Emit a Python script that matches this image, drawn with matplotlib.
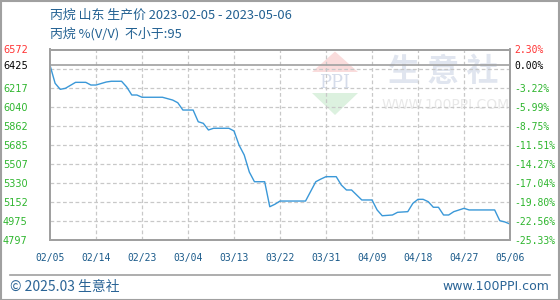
import matplotlib
matplotlib.use("Agg")
import matplotlib.pyplot as plt
from matplotlib.patches import Polygon, Rectangle
from matplotlib.lines import Line2D
import numpy as np

# ---------------- data ----------------
dates = ["2023-02-05", "2023-02-06", "2023-02-07", "2023-02-08", "2023-02-10", "2023-02-12",
         "2023-02-13", "2023-02-14", "2023-02-16", "2023-02-17", "2023-02-19", "2023-02-20",
         "2023-02-21", "2023-02-22", "2023-02-23", "2023-02-27", "2023-03-01", "2023-03-02",
         "2023-03-03", "2023-03-05", "2023-03-06", "2023-03-07", "2023-03-08", "2023-03-09",
         "2023-03-12", "2023-03-13", "2023-03-14", "2023-03-15", "2023-03-16", "2023-03-17",
         "2023-03-19", "2023-03-20", "2023-03-21", "2023-03-22", "2023-03-27", "2023-03-29",
         "2023-03-30", "2023-03-31", "2023-04-02", "2023-04-03", "2023-04-04", "2023-04-05",
         "2023-04-07", "2023-04-09", "2023-04-10", "2023-04-11", "2023-04-13", "2023-04-14",
         "2023-04-16", "2023-04-17", "2023-04-18", "2023-04-19", "2023-04-20", "2023-04-21",
         "2023-04-22", "2023-04-23", "2023-04-24", "2023-04-25", "2023-04-27", "2023-04-28",
         "2023-05-03", "2023-05-04", "2023-05-05", "2023-05-06"]
prices = [6425, 6257, 6201, 6210, 6266, 6266,
          6241, 6241, 6269, 6276, 6276, 6223,
          6148, 6148, 6127, 6127, 6101, 6076,
          6008, 6008, 5899, 5884, 5822, 5838,
          5838, 5813, 5680, 5589, 5430, 5340,
          5340, 5107, 5130, 5160, 5160, 5340,
          5365, 5387, 5387, 5309, 5263, 5263,
          5170, 5170, 5077, 5023, 5030, 5055,
          5061, 5139, 5176, 5176, 5154, 5102,
          5102, 5030, 5030, 5061, 5092, 5077,
          5077, 4977, 4965, 4946]

x_tick_dates = ["2023-02-05", "2023-02-14", "2023-02-23", "2023-03-04", "2023-03-13", "2023-03-22",
                "2023-03-31", "2023-04-09", "2023-04-18", "2023-04-27", "2023-05-06"]
x_tick_labels = ["02/05", "02/14", "02/23", "03/04", "03/13", "03/22",
                 "03/31", "04/09", "04/18", "04/27", "05/06"]

y_min, y_max = 4797, 6572
base_value = 6425
grid_values = [4974.5, 5152, 5329.5, 5507, 5684.5, 5862, 6039.5, 6217, 6394.5]
left_tick_values = [4797, 4974.5, 5152, 5329.5, 5507, 5684.5, 5862, 6039.5, 6217, 6425, 6572]
left_tick_labels = ["4797", "4975", "5152", "5330", "5507", "5685", "5862", "6040", "6217", "6425", "6572"]
right_tick_labels = ["-25.33%", "-22.56%", "-19.80%", "-17.04%", "-14.27%", "-11.51%",
                     "-8.75%", "-5.99%", "-3.22%", "0.00%", "2.30%"]

title1 = "丙烷 山东 生产价 2023-02-05 - 2023-05-06"
title2 = "丙烷 %(V/V)  不小于:95"
footer_left = "© 2025.03 生意社"
footer_right = "www.100PPI.com"

# ---------------- styling ----------------
W, H = 560, 300
GREEN = "#2db52d"
RED = "#ff3333"
BLUE_TXT = "#236192"
LINE = "#3a98d8"
GRID = "#c8c8c8"
FRAME = "#a0a0a0"
CJK = ["Noto Sans CJK SC", "DejaVu Sans"]

def fx(px):
    return px / W

def fy(py):
    return 1 - py / H

fig = plt.figure(figsize=(W / 100, H / 100), dpi=100)
fig.patch.set_facecolor("white")

L, R, T, B = 50, 510, 49.5, 240
ax = fig.add_axes([fx(L), fy(B), (R - L) / W, (B - T) / H])
ax.patch.set_alpha(0)

d = np.array(dates, dtype="datetime64[D]").astype("O")
ax.plot(d, prices, color=LINE, lw=1.0, zorder=3)

xt = np.array(x_tick_dates, dtype="datetime64[D]").astype("O")
ax.set_xlim(xt[0], xt[-1])
ax.set_ylim(y_min, y_max)

# grid lines
for g in grid_values:
    ax.axhline(g, color=GRID, lw=0.9, ls=(0, (3, 2)), zorder=1)
for t in xt[1:-1]:
    ax.axvline(t, color=GRID, lw=0.9, ls=(0, (3, 2)), zorder=1)
ax.axhline(base_value, color=FRAME, lw=1.2, zorder=2)

ax.set_xticks(xt)
ax.set_xticklabels(x_tick_labels, family="DejaVu Sans Mono", fontsize=7, color="#1a5a8a")
ax.tick_params(axis="x", length=0, pad=9)

ax.set_yticks(left_tick_values)
ax.set_yticklabels(left_tick_labels, fontsize=7, family="DejaVu Sans")
ax.tick_params(axis="y", length=0, pad=16)
for lab, v in zip(ax.get_yticklabels(), left_tick_values):
    lab.set_color(RED if v == y_max else ("black" if v == base_value else GREEN))

ax2 = ax.twinx()
ax2.set_ylim(y_min, y_max)
ax2.set_yticks(left_tick_values)
ax2.set_yticklabels(right_tick_labels, fontsize=7, family="DejaVu Sans Mono")
ax2.tick_params(axis="y", length=0, pad=3)
for lab, v in zip(ax2.get_yticklabels(), left_tick_values):
    lab.set_color(RED if v == y_max else ("black" if v == base_value else GREEN))

for a in (ax, ax2):
    for s in a.spines.values():
        s.set_color(FRAME)
        s.set_linewidth(1.3)

# watermark (behind the plot content)
ax.add_patch(Polygon([(fx(312), fy(72)), (fx(358), fy(72)), (fx(335), fy(51.5))],
                     closed=True, transform=fig.transFigure, facecolor="#fadcdc",
                     edgecolor="none", zorder=0.2))
ax.add_patch(Polygon([(fx(312), fy(93)), (fx(358), fy(93)), (fx(335), fy(115))],
                     closed=True, transform=fig.transFigure, facecolor="#dcf1df",
                     edgecolor="none", zorder=0.2))
ax.text(fx(335), fy(82.5), "PPI", transform=fig.transFigure, ha="center", va="center",
        fontsize=13, color="#d5dcea", family="DejaVu Serif", zorder=0.2)
ax.text(fx(443), fy(72), "生 意 社", transform=fig.transFigure, ha="center", va="center",
        fontsize=23, color="#e0e5ef", fontweight="bold", family=CJK, zorder=0.2)
ax.text(fx(446), fy(105), "WWW.100PPI.COM", transform=fig.transFigure, ha="center", va="center",
        fontsize=10, color="#e8e8e8", family="DejaVu Sans", zorder=0.2)

# titles
fig.text(fx(50), fy(15), title1, ha="left", va="center", fontsize=9.3, color=BLUE_TXT, family=CJK)
fig.text(fx(50), fy(34), title2, ha="left", va="center", fontsize=9.3, color=BLUE_TXT, family=CJK)

# footer
fig.add_artist(Line2D([fx(10), fx(550)], [fy(275), fy(275)], transform=fig.transFigure,
                      color=FRAME, lw=1.2))
fig.text(fx(10), fy(287), footer_left, ha="left", va="center", fontsize=10, color="#2a6496", family=CJK)
fig.text(fx(549), fy(286), footer_right, ha="right", va="center", fontsize=9, color="#2a6496",
         family="DejaVu Sans")

# outer border
fig.add_artist(Rectangle((0.5 / W, 0.5 / H), 1 - 1.5 / W, 1 - 1.5 / H, transform=fig.transFigure,
                         fill=False, edgecolor=FRAME, lw=1.5))

fig.savefig("out.png", dpi=100)
